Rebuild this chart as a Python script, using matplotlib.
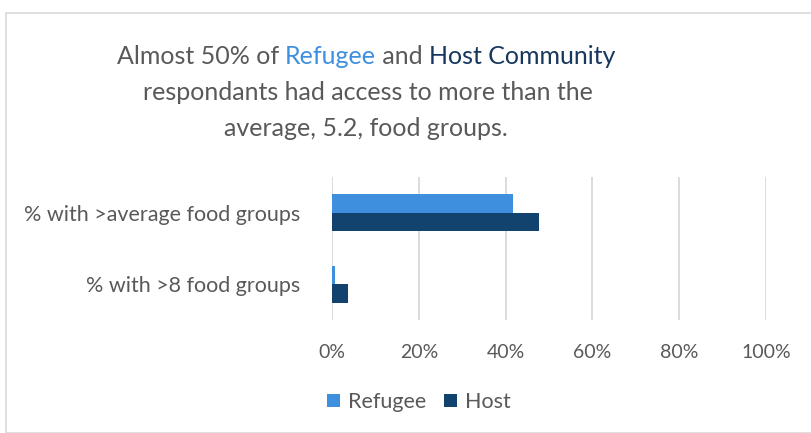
import matplotlib
matplotlib.use("Agg")
import matplotlib.pyplot as plt
from matplotlib.patches import Rectangle

categories = ["% with >average food groups", "% with >8 food groups"]
refugee = [41.6, 0.7]
host = [47.8, 3.7]
ticks = [0, 20, 40, 60, 80, 100]

c_ref = "#3E8FDD"
c_host = "#12436F"
c_text = "#595959"
c_grid = "#D9D9D9"

plt.rcParams['font.family'] = ['Lato', 'DejaVu Sans']

fig = plt.figure(figsize=(8.12, 4.33), dpi=100)
W, H = 812, 433

# chart border
fig.patches.append(Rectangle((5.5 / W, 0), 1.2, 1 - 12.5 / H, transform=fig.transFigure,
                             fill=False, edgecolor=c_grid, linewidth=1.2))

ax = fig.add_axes([332 / W, 1 - 320 / H, (766 - 332) / W, (320 - 177) / H])
ypos = [1, 0]
bh = 0.256
ax.barh([y + bh / 2 for y in ypos], refugee, height=bh, color=c_ref, label="Refugee", zorder=3)
ax.barh([y - bh / 2 for y in ypos], host, height=bh, color=c_host, label="Host", zorder=3)
ax.set_xlim(0, 100)
ax.set_ylim(-0.5, 1.5)
ax.set_xticks(ticks)
ax.set_xticklabels([f"{t}%" for t in ticks], fontsize=14, color=c_text)
ax.set_yticks(ypos)
ax.set_yticklabels(categories, fontsize=15.5, color=c_text)
ax.tick_params(length=0)
ax.tick_params(axis="x", pad=17)
ax.tick_params(axis="y", pad=23)
ax.xaxis.grid(True, color=c_grid, linewidth=1.3, zorder=0)
for s in ax.spines.values():
    s.set_visible(False)

leg = fig.legend(loc="center", bbox_to_anchor=(419 / W, 1 - 402 / H), ncol=2, frameon=False,
                 fontsize=15.5, handlelength=0.6, handleheight=0.6, handletextpad=0.4,
                 columnspacing=0.8, labelcolor=c_text)

# title, first line has coloured words
fs = 18
renderer = fig.canvas.get_renderer()
parts = [("Almost 50% of ", c_text), ("Refugee", c_ref), (" and ", c_text),
         ("Host Community", "#17375E")]
texts = []
for s, c in parts:
    t = fig.text(0, 1 - 56 / H, s, fontsize=fs, color=c, ha="left", va="center")
    texts.append(t)
widths = [t.get_window_extent(renderer).width for t in texts]
x = (366 - sum(widths) / 2)
for t, w in zip(texts, widths):
    t.set_x(x / W)
    x += w
fig.text(368 / W, 1 - 92 / H, "respondants had access to more than the", fontsize=fs,
         color=c_text, ha="center", va="center")
fig.text(366 / W, 1 - 128 / H, "average, 5.2, food groups.", fontsize=fs,
         color=c_text, ha="center", va="center")

fig.savefig("out.png", dpi=100)
